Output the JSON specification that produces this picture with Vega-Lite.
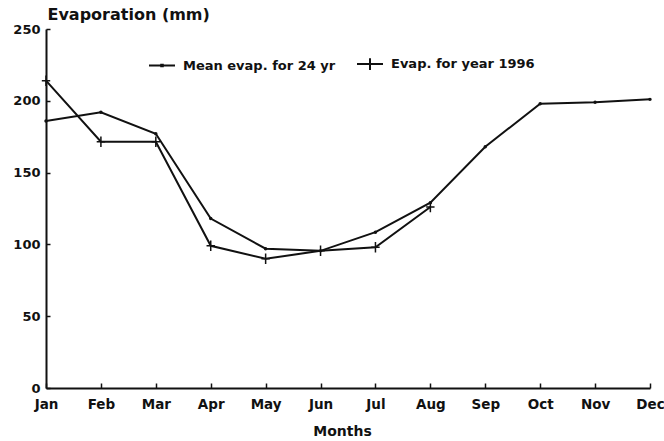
{
  "$schema": "https://vega.github.io/schema/vega-lite/v6.json",
  "width": 604,
  "height": 359,
  "autosize": "none",
  "padding": {"left": 46, "top": 29, "right": 14, "bottom": 53},
  "background": "white",
  "config": {
    "view": {"stroke": null},
    "font": "DejaVu Sans",
    "axis": {"grid": false, "domainColor": "#111", "domainWidth": 2, "tickColor": "#111", "tickWidth": 1.5, "labelColor": "#111", "titleColor": "#111", "labelFont": "DejaVu Sans", "labelFontWeight": "bold", "titleFont": "DejaVu Sans", "titleFontWeight": "bold"}
  },
  "data": {
    "values": [
      {"month": "Jan", "series": "Mean evap. for 24 yr", "evap": 186},
      {"month": "Feb", "series": "Mean evap. for 24 yr", "evap": 192},
      {"month": "Mar", "series": "Mean evap. for 24 yr", "evap": 177},
      {"month": "Apr", "series": "Mean evap. for 24 yr", "evap": 118},
      {"month": "May", "series": "Mean evap. for 24 yr", "evap": 97},
      {"month": "Jun", "series": "Mean evap. for 24 yr", "evap": 95.5},
      {"month": "Jul", "series": "Mean evap. for 24 yr", "evap": 108.5},
      {"month": "Aug", "series": "Mean evap. for 24 yr", "evap": 129},
      {"month": "Sep", "series": "Mean evap. for 24 yr", "evap": 168},
      {"month": "Oct", "series": "Mean evap. for 24 yr", "evap": 198},
      {"month": "Nov", "series": "Mean evap. for 24 yr", "evap": 199},
      {"month": "Dec", "series": "Mean evap. for 24 yr", "evap": 201},
      {"month": "Jan", "series": "Evap. for year 1996", "evap": 214},
      {"month": "Feb", "series": "Evap. for year 1996", "evap": 171.5},
      {"month": "Mar", "series": "Evap. for year 1996", "evap": 171.5},
      {"month": "Apr", "series": "Evap. for year 1996", "evap": 99},
      {"month": "May", "series": "Evap. for year 1996", "evap": 90},
      {"month": "Jun", "series": "Evap. for year 1996", "evap": 95.5},
      {"month": "Jul", "series": "Evap. for year 1996", "evap": 98},
      {"month": "Aug", "series": "Evap. for year 1996", "evap": 126}
    ]
  },
  "encoding": {
    "x": {
      "field": "month",
      "type": "ordinal",
      "sort": ["Jan", "Feb", "Mar", "Apr", "May", "Jun", "Jul", "Aug", "Sep", "Oct", "Nov", "Dec"],
      "scale": {"type": "point", "padding": 0, "domain": ["Jan", "Feb", "Mar", "Apr", "May", "Jun", "Jul", "Aug", "Sep", "Oct", "Nov", "Dec"]},
      "axis": {
        "title": "Months",
        "labelAngle": 0,
        "labelFontSize": 13.5,
        "tickSize": -5,
        "labelPadding": 14,
        "titleFontSize": 14,
        "titleX": 296,
        "titleY": 47,
        "titleBaseline": "alphabetic",
        "titleAlign": "center"
      }
    },
    "y": {
      "field": "evap",
      "type": "quantitative",
      "scale": {"domain": [0, 250], "nice": false},
      "axis": {
        "title": "Evaporation (mm)",
        "values": [0, 50, 100, 150, 200, 250],
        "labelFontSize": 13,
        "tickSize": -4,
        "labelPadding": 10,
        "titleAngle": 0,
        "titleAlign": "left",
        "titleBaseline": "alphabetic",
        "titleX": 1,
        "titleY": -10,
        "titleFontSize": 16
      }
    }
  },
  "layer": [
    {
      "mark": {"type": "line", "color": "#111", "strokeWidth": 2},
      "encoding": {"detail": {"field": "series", "type": "nominal"}}
    },
    {
      "transform": [{"filter": "datum.series === 'Mean evap. for 24 yr'"}],
      "mark": {"type": "point", "shape": "circle", "filled": true, "color": "#111", "size": 12, "opacity": 1}
    },
    {
      "transform": [{"filter": "datum.series === 'Evap. for year 1996'"}],
      "mark": {"type": "point", "shape": "M-0.8,0L0.8,0M0,-1L0,1", "filled": false, "color": "#111", "strokeWidth": 1.5, "size": 110, "opacity": 1}
    },
    {
      "transform": [{"filter": "datum.evap < 0"}],
      "mark": {"type": "point", "filled": false, "color": "#111", "strokeWidth": 2, "opacity": 1},
      "encoding": {
        "shape": {
          "field": "series",
          "type": "nominal",
          "scale": {"domain": ["Mean evap. for 24 yr", "Evap. for year 1996"], "range": ["M-1,0L1,0M-0.06,-0.06L0.06,-0.06L0.06,0.06L-0.06,0.06Z", "M-1,0L1,0M0,-0.45L0,0.45"]},
          "legend": {
            "orient": "none",
            "direction": "horizontal",
            "legendX": 102,
            "legendY": 21,
            "title": null,
            "padding": 0,
            "symbolSize": 676,
            "symbolStrokeWidth": 2,
            "symbolStrokeColor": "#111",
            "labelOffset": 7,
            "columnPadding": 17,
            "labelFont": "DejaVu Sans",
            "labelFontWeight": "bold",
            "labelFontSize": 13,
            "labelColor": "#111",
            "labelLimit": 0
          }
        }
      }
    }
  ]
}
